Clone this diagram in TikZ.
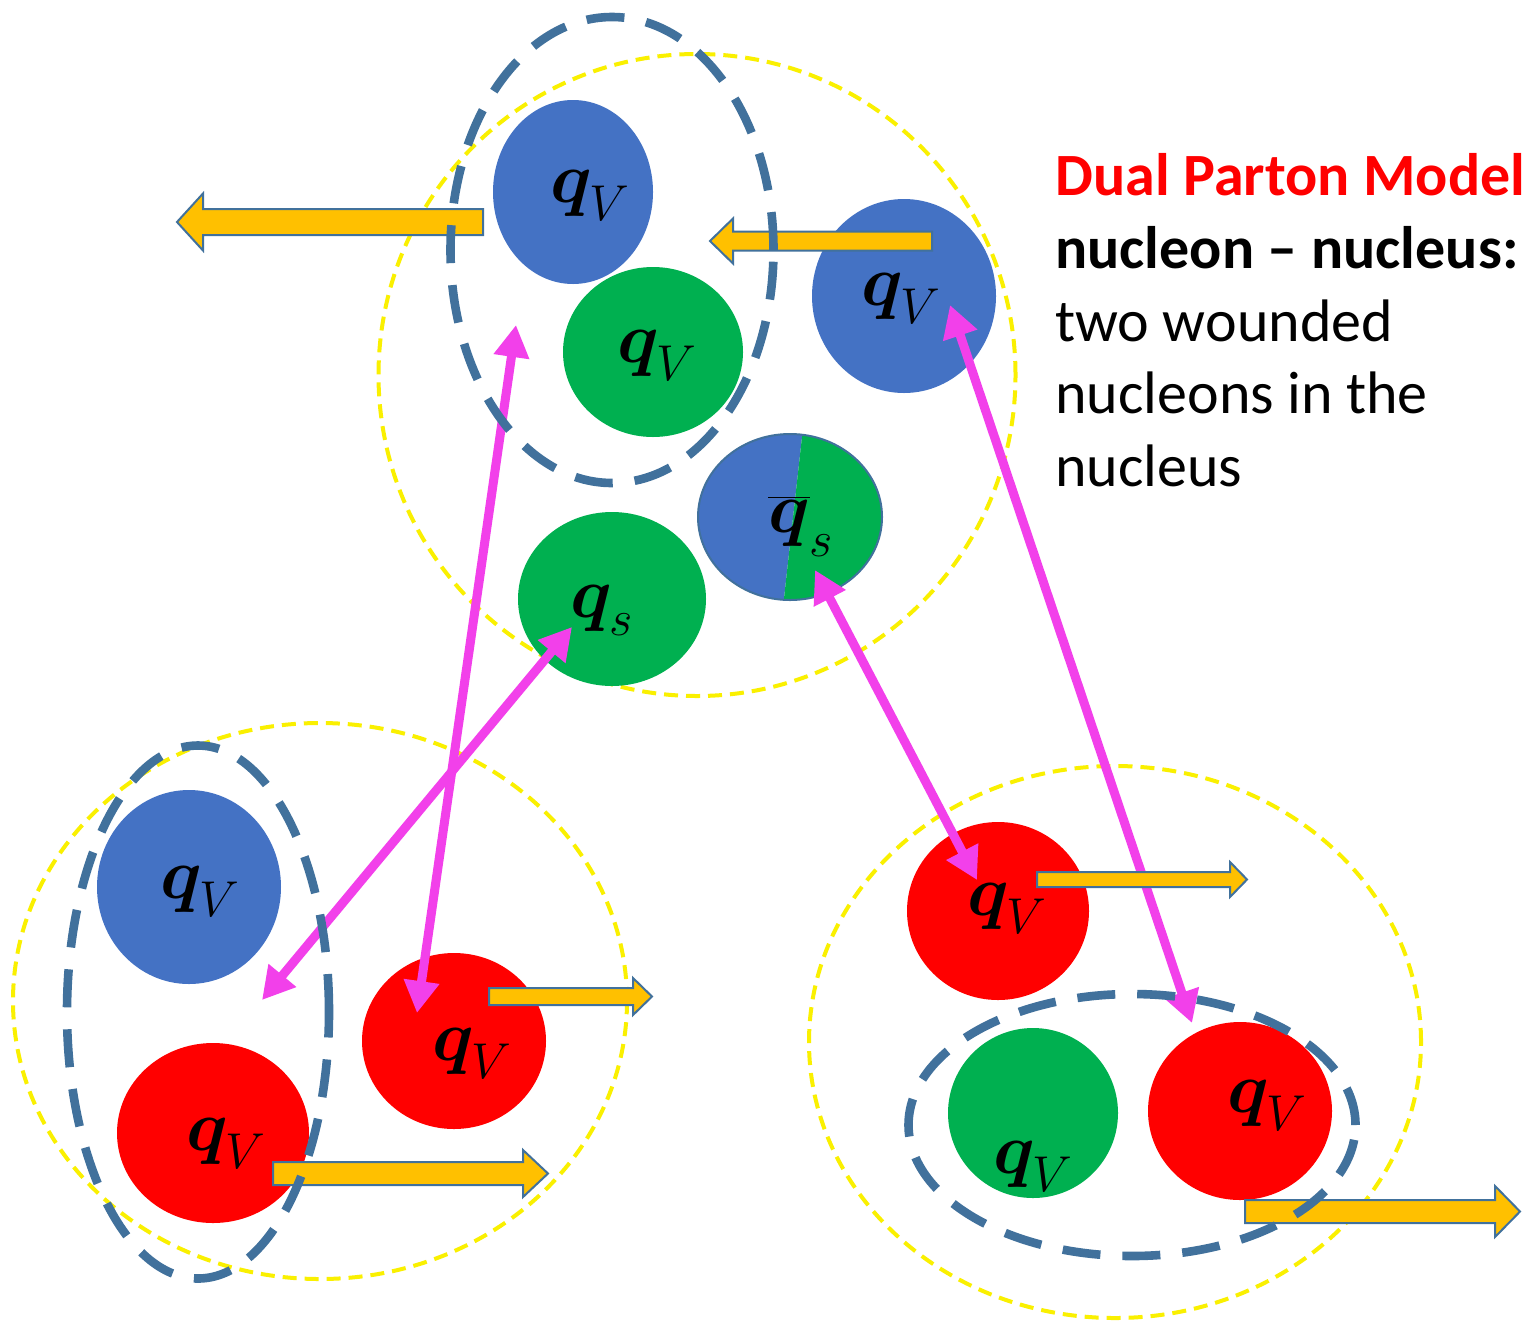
\RequirePackage{fix-cm}
\documentclass[tikz,border=0pt]{standalone}
\usepackage{bm}
\usepackage{fontspec}
\newfontfamily\calib{Carlito}
\usetikzlibrary{shapes.geometric,arrows.meta}
\definecolor{qblue}{HTML}{4472C4}
\definecolor{qgreen}{HTML}{00B050}
\definecolor{qred}{HTML}{FF0000}
\definecolor{edge}{HTML}{41719C}
\definecolor{aorange}{HTML}{FFC000}
\definecolor{apink}{RGB}{242,64,234}
\definecolor{ydash}{RGB}{250,240,0}
\tikzset{
 parton/.style={ellipse, inner sep=0pt, outer sep=0pt},
 lab/.style={anchor=base, inner sep=0pt, font=\fontsize{36}{40}\selectfont},
 ydashed/.style={ellipse, draw=ydash, line width=2pt, dash pattern=on 7pt off 4pt, inner sep=0pt},
 bdashed/.style={ellipse, draw=edge, line width=4.3pt, dash pattern=on 19pt off 11pt, inner sep=0pt},
 fatarrow/.style={fill=aorange, draw=edge, line width=1pt, line join=miter},
 link/.style={draw=apink, line width=4.5pt, {Triangle[length=16pt,width=17pt]}-{Triangle[length=16pt,width=17pt]}},
 txt/.style={anchor=base west, inner sep=0pt, font=\calib\fontsize{30}{36}\selectfont},
}
\newcommand\orarrow[6]{\filldraw[fatarrow] (#1,#4-#5) -- (#2,#4-#5) -- (#2,#4-#6) -- (#3,#4) -- (#2,#4+#6) -- (#2,#4+#5) -- (#1,#4+#5) -- cycle;}
\newcommand\qlab[2]{$#1_{\raisebox{-4pt}{$\scriptstyle #2$}}$}
\begin{document}
\begin{tikzpicture}[x=0.5pt,y=-0.5pt]
\useasboundingbox[fill=white] (0,0) rectangle (1529,1328);
% yellow nucleon outlines
\node[ydashed, minimum width=318.5pt, minimum height=321pt] (ytop) at (697,375) {};
\node[ydashed, minimum width=307pt, minimum height=278pt] (ybl) at (320,1001) {};
\node[ydashed, minimum width=306pt, minimum height=276pt] (ybr) at (1115,1042) {};
% partons
\node[parton, fill=qblue, minimum width=80pt, minimum height=92pt] (tb1) at (573,192) {};
\node[parton, fill=qgreen, minimum width=90pt, minimum height=85pt] (tg1) at (653,352) {};
\node[parton, fill=qblue, minimum width=92pt, minimum height=97pt] (tb2) at (904,296) {};
\node[parton, fill=qgreen, minimum width=94pt, minimum height=87pt] (qs) at (612,599) {};
\begin{scope}
 \clip (790,517) ellipse [x radius=46pt, y radius=41.5pt];
 \fill[qblue] (680,410) -- (805,410) -- (781,625) -- (680,625) -- cycle;
 \fill[qgreen] (805,410) -- (900,410) -- (900,625) -- (781,625) -- cycle;
\end{scope}
\node[parton, draw=edge, line width=1pt, minimum width=92pt, minimum height=83pt] (qbs) at (790,517) {};
\node[parton, fill=qblue, minimum width=92pt, minimum height=97pt] (lb) at (189,887) {};
\node[parton, fill=qred, minimum width=96pt, minimum height=90pt] (lr1) at (213,1133) {};
\node[parton, fill=qred, minimum width=92pt, minimum height=88pt] (lr2) at (454,1041) {};
\node[parton, fill=qred, minimum width=91pt, minimum height=89pt] (rr1) at (998,911) {};
\node[parton, fill=qgreen, minimum width=85pt, minimum height=85pt] (rg) at (1033,1113) {};
\node[parton, fill=qred, minimum width=92pt, minimum height=89pt] (rr2) at (1240,1111) {};
% labels
\node[lab] (ltb1) at (590,202) {\qlab{\bm{q}}{V}};
\node[lab] (ltg1) at (657,362) {\qlab{\bm{q}}{V}};
\node[lab] (ltb2) at (901,305) {\qlab{\bm{q}}{V}};
\node[lab] (lqbs) at (801,532) {\qlab{\overline{\bm{q}}}{s}};
\node[lab] (lqs) at (602,617) {\qlab{\bm{q}}{s}};
\node[lab] (llb) at (200,898) {\qlab{\bm{q}}{V}};
\node[lab] (llr1) at (226,1150) {\qlab{\bm{q}}{V}};
\node[lab] (llr2) at (472,1060) {\qlab{\bm{q}}{V}};
\node[lab] (lrr1) at (1007,915) {\qlab{\bm{q}}{V}};
\node[lab] (lrg) at (1033,1173) {\qlab{\bm{q}}{V}};
\node[lab] (lrr2) at (1267,1112) {\qlab{\bm{q}}{V}};
% pink strings
\coordinate (p1a) at (516,325); \coordinate (p1b) at (417,1013);
\coordinate (p2a) at (572,627); \coordinate (p2b) at (262,1000);
\coordinate (p3a) at (815,570); \coordinate (p3b) at (977,880);
\coordinate (p4a) at (950,305); \coordinate (p4b) at (1192,1023);
\draw[link] (p1a) -- (p1b);
\draw[link] (p2a) -- (p2b);
\draw[link] (p3a) -- (p3b);
\draw[link] (p4a) -- (p4b);
% orange momentum arrows
\orarrow{483}{203}{177}{222}{13}{28.5}
\orarrow{932}{733}{710}{241}{9.5}{22.5}
\orarrow{1037}{1230}{1247}{879.5}{7.5}{17.5}
\orarrow{489}{633}{652}{996.5}{8.5}{18.5}
\orarrow{273}{523}{548}{1173.5}{11.5}{23.5}
\orarrow{1245}{1495}{1520}{1211.5}{11.5}{25.5}
% wounded nucleon outlines
\node[bdashed, minimum width=161.5pt, minimum height=233pt] (dtop) at (612,250) {};
\node[bdashed, minimum width=131pt, minimum height=266.5pt] (dbl) at (198,1012) {};
\node[bdashed, minimum width=223.5pt, minimum height=131pt] (dbr) at (1132,1125) {};
% text
\node[txt, text=qred] (t1) at (1055,195) {\bfseries Dual Parton Model};
\node[txt] (t2) at (1055,268) {\bfseries nucleon – nucleus:};
\node[txt] (t3) at (1055,341) {two wounded};
\node[txt] (t4) at (1055,413) {nucleons in the};
\node[txt] (t5) at (1055,486) {nucleus};
\end{tikzpicture}
\end{document}
